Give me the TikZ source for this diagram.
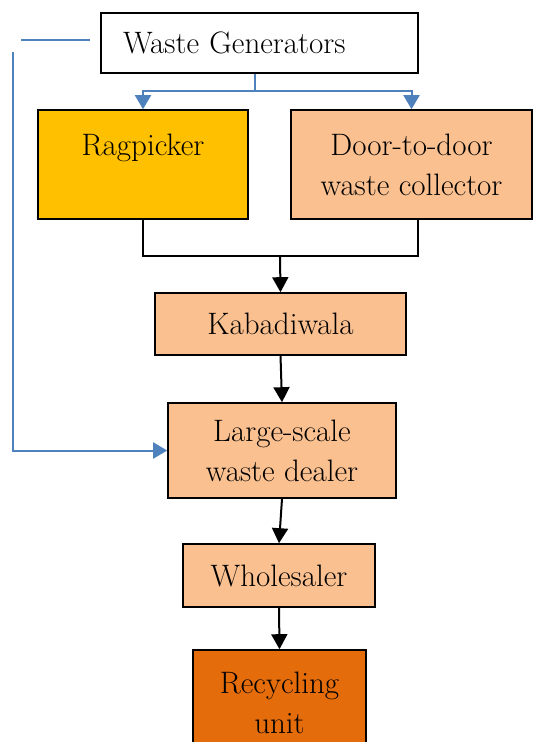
\documentclass[tikz,border=0pt]{standalone}
\usetikzlibrary{arrows.meta}

\definecolor{ragyellow}{HTML}{FFC000}
\definecolor{peach}{HTML}{FAC090}
\definecolor{rust}{HTML}{E46C0A}
\definecolor{linkblue}{HTML}{4F81BD}

\begin{document}
\begin{tikzpicture}[x=0.5pt, y=-0.5pt,
    every node/.style={font=\fontsize{15.5}{20}\selectfont},
    stage/.style={draw=black, line width=0.8pt, align=center, inner sep=0pt},
    flow/.style={draw=black, line width=1pt, -{Triangle[width=8pt,length=7.5pt]}},
    feed/.style={draw=linkblue, line width=1pt}]
    \useasboundingbox (0,0) rectangle (534,742);
    % the stages
    \node[stage, fill=white, minimum width=158.5pt, minimum height=30pt,
          text width=136.5pt, inner xsep=11pt, align=left] (gen) at (259.5,43) {Waste Generators};
    \node[stage, fill=ragyellow, minimum width=105pt, minimum height=54.5pt] (rag) at (143,164.5) {Ragpicker\\\mbox{}};
    \node[stage, fill=peach, minimum width=120.5pt, minimum height=54.5pt] (door) at (411.5,164.5) {Door-to-door\\waste collector};
    \node[stage, fill=peach, minimum width=125.5pt, minimum height=31pt] (kab) at (280.5,324) {Kabadiwala};
    \node[stage, fill=peach, minimum width=114pt, minimum height=47.5pt] (large) at (282,450.5) {Large-scale\\waste dealer};
    \node[stage, fill=peach, minimum width=96pt, minimum height=31.5pt] (whole) at (279,575.5) {Wholesaler};
    \node[stage, fill=rust, minimum width=86.5pt, minimum height=52.5pt] (rec) at (279.5,702.5) {Recycling\\unit};
    % blue split from the generators
    \coordinate (split) at (255,91);
    \draw[feed] (split |- gen.south) -- (split);
    \draw[feed, -{Triangle[width=8pt,length=7pt]}] (split) -| (rag.north);
    \draw[feed, -{Triangle[width=8pt,length=7pt]}] (split) -| (door.north);
    % both collectors join
    \coordinate (join) at (280,256);
    \draw[line width=1pt] (rag.south) |- (join) -| ([xshift=3.25pt]door.south);
    \draw[flow] (join) -- (kab.north);
    \draw[flow] (kab.south) -- (large.north);
    \draw[flow] (large.south) -- (whole.north);
    \draw[flow] (whole.south) -- (rec.north);
    % direct route to the dealer
    \coordinate (fbtop) at (13,52);
    \draw[feed] (gen.west) ++(-10,-3) -- (21,40);
    \draw[feed, -{Triangle[width=8pt,length=7pt]}] (fbtop) |- (large.west);
\end{tikzpicture}
\end{document}
